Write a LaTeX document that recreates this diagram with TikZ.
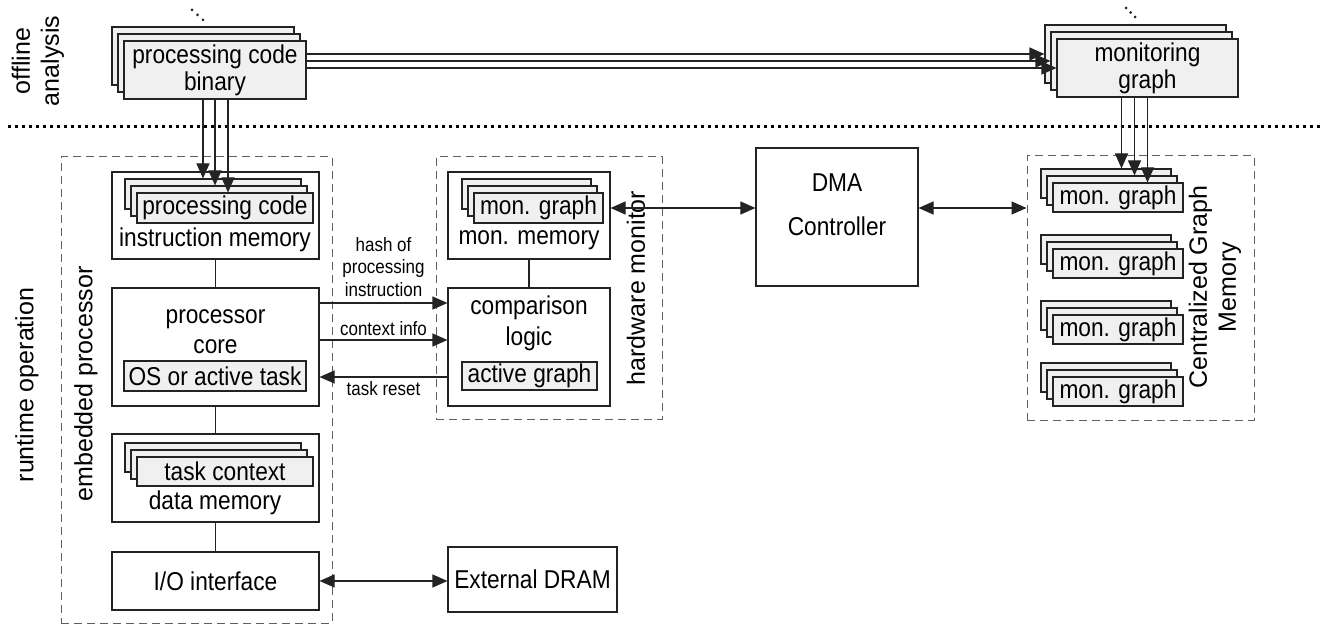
\documentclass[tikz,border=0pt]{standalone}
\usepackage{fontspec}
\setmainfont{Liberation Sans}[FakeStretch=0.88]
\newfontfamily\sidefont{Liberation Sans}
\usetikzlibrary{arrows.meta, positioning, shadows, calc}

\definecolor{layergray}{RGB}{240, 240, 240}
\definecolor{framegray}{RGB}{95, 95, 95}
\definecolor{linedark}{RGB}{35, 35, 35}

\tikzset{
  lbl/.style={font=\fontsize{25.8}{27}\selectfont, align=center, inner sep=0pt},
  smalllbl/.style={font=\fontsize{19.3}{22.5}\selectfont, align=center, inner sep=4pt},
  sidelbl/.style={font=\sidefont\fontsize{25}{29}\selectfont, align=center, rotate=90, inner sep=0pt},
  membox/.style={draw=linedark, line width=1.1pt, fill=white, inner sep=0pt, font=\fontsize{25.8}{27}\selectfont, align=center},
  slotbox/.style={draw=linedark, line width=1.1pt, fill=layergray, inner sep=0pt, font=\fontsize{25.8}{27}\selectfont, align=center},
  layerbox/.style={slotbox, double copy shadow={shadow xshift=-6pt, shadow yshift=7pt}},
  groupbox/.style={draw=framegray, line width=1pt, dash pattern=on 8pt off 5pt},
  arrowline/.style={draw=linedark, line width=1.1pt, -{Triangle[length=15pt, width=13pt]}},
  dblarrow/.style={draw=linedark, line width=1.1pt, {Triangle[length=15pt, width=13pt]}-{Triangle[length=15pt, width=13pt]}},
  linkline/.style={draw=linedark, line width=1.1pt},
  sepdots/.style={line width=3pt, dash pattern=on 3pt off 4pt}
}

\begin{document}
\begin{tikzpicture}[x=1pt, y=-1pt]
  \useasboundingbox (0,0) rectangle (1322,628);

  % Offline stage
  \node[sidelbl] (offline) at (38,61) {offline\\analysis};
  \node[layerbox, minimum width=182, minimum height=58] (pcb) at (215,70) {processing code\\binary};
  \node[layerbox, minimum width=181, minimum height=58] (mg) at (1147.5,68) {monitoring\\graph};
  \foreach \i in {0,1,2} {
    \fill[linedark] (192+5.5*\i, 10+5*\i) circle (1.5pt);
    \fill[linedark] (1126+4.5*\i, 8+4.5*\i) circle (1.5pt);
  }

  % binary -> monitoring graph
  \coordinate (mgback) at ([xshift=-12pt, yshift=14pt]mg.west);
  \coordinate (mgmid) at ([xshift=-6pt, yshift=7pt]mg.west);
  \draw[arrowline] (pcb.east |- mgback) -- (mgback);
  \draw[arrowline] (pcb.east |- mgmid) -- (mgmid);
  \draw[arrowline] (pcb.east |- mg.west) -- (mg.west);

  % Separator
  \draw[sepdots] (8,127) -- (1322,127);

  % Embedded processor
  \node[sidelbl] (runtime) at (27,385) {runtime operation};
  \node[groupbox, minimum width=271, minimum height=466] (eproc) at (196.5,390) {};
  \node[sidelbl] (eproclbl) at (86,384) {embedded processor};

  \node[membox, minimum width=207, minimum height=87] (imem) at (215.5,215.5) {};
  \node[layerbox, minimum width=176, minimum height=30] (pcode) at (225,208) {processing code};
  \node[lbl] (imemlbl) at (215,240) {instruction memory};

  \node[membox, minimum width=207, minimum height=118] (core) at (215.5,347) {};
  \node[lbl] (corelbl) at (215.5,332) {processor\\[3pt]core};
  \node[slotbox, minimum width=182, minimum height=30] (ostask) at (215,376) {OS or active task};

  \node[membox, minimum width=207, minimum height=88] (dmem) at (215.5,478) {};
  \node[layerbox, minimum width=176, minimum height=29] (tctx) at (225,471.5) {task context};
  \node[lbl] (dmemlbl) at (215,503) {data memory};

  \node[membox, minimum width=207, minimum height=58] (io) at (215.5,581) {I/O interface};
  \node[membox, minimum width=169, minimum height=65] (dram) at (532.5,579.5) {External DRAM};

  \draw[linkline] (imem) -- (core);
  \draw[linkline] (core) -- (dmem);
  \draw[linkline] (dmem) -- (io);
  \draw[dblarrow] (io.east) -- (io.east -| dram.west);

  % binary -> instruction memory
  \coordinate (pco1) at ([xshift=-12pt]pcb.south);
  \coordinate (pco2) at (pcb.south);
  \coordinate (pco3) at ([xshift=13pt]pcb.south);
  \coordinate (pcback) at ([yshift=14pt]pcode.north);
  \coordinate (pcmid) at ([yshift=7pt]pcode.north);
  \draw[arrowline] (pco1) -- (pco1 |- pcback);
  \draw[arrowline] (pco2) -- (pco2 |- pcmid);
  \draw[arrowline] (pco3) -- (pco3 |- pcode.north);

  % Hardware monitor
  \node[groupbox, minimum width=226, minimum height=262] (hwmon) at (549,288) {};
  \node[sidelbl] (hwlbl) at (636,288) {hardware monitor};

  \node[membox, minimum width=162, minimum height=87] (mmem) at (529,215.5) {};
  \node[layerbox, minimum width=129, minimum height=30] (mgraph) at (538.5,208) {mon. graph};
  \node[lbl] (mmemlbl) at (529,240) {mon. memory};

  \node[membox, minimum width=162, minimum height=118] (cmp) at (529,347) {};
  \node[lbl] (cmplbl) at (529,323) {comparison\\[4pt]logic};
  \node[slotbox, minimum width=135, minimum height=28] (actg) at (529.5,376) {active graph};

  \draw[linkline] (mmem) -- (cmp);

  % core <-> comparison logic
  \coordinate (hashout) at ([yshift=44pt]core.east);
  \coordinate (ctxout) at ([yshift=7pt]core.east);
  \coordinate (rstin) at ([yshift=-30pt]core.east);
  \draw[arrowline] (hashout) -- node[smalllbl, above, yshift=2pt] {hash of\\processing\\instruction} (hashout -| cmp.west);
  \draw[arrowline] (ctxout) -- node[smalllbl, above] {context info} (ctxout -| cmp.west);
  \draw[arrowline] (rstin -| cmp.west) -- node[smalllbl, below] {task reset} (rstin);

  % DMA controller
  \node[membox, minimum width=162, minimum height=138] (dma) at (837,217) {};
  \node[lbl] (dmalbl) at (837,205) {DMA\\[17pt]Controller};

  % Centralized graph memory
  \node[groupbox, minimum width=227, minimum height=264] (cgm) at (1140.5,288) {};
  \node[sidelbl] (cgmlbl) at (1215,287) {Centralized Graph\\Memory};
  \foreach \n/\y in {1/197.5, 2/263.5, 3/329.5, 4/391.5}
    \node[layerbox, minimum width=130, minimum height=29] (cg\n) at (1118,\y) {mon. graph};

  \coordinate (dmain) at ([yshift=9pt]dma.west);
  \coordinate (dmaout) at ([yshift=9pt]dma.east);
  \draw[dblarrow] (dmain -| mmem.east) -- (dmain);
  \draw[dblarrow] (dmaout) -- (dmaout -| cgm.west);

  % monitoring graph -> centralized memory
  \coordinate (mgo1) at ([xshift=-26pt]mg.south);
  \coordinate (mgo2) at ([xshift=-13pt]mg.south);
  \coordinate (mgo3) at (mg.south);
  \coordinate (cgback) at ([yshift=14pt]cg1.north);
  \coordinate (cgmid) at ([yshift=7pt]cg1.north);
  \draw[arrowline] (mgo1) -- (mgo1 |- cgback);
  \draw[arrowline] (mgo2) -- (mgo2 |- cgmid);
  \draw[arrowline] (mgo3) -- (mgo3 |- cg1.north);
\end{tikzpicture}
\end{document}
